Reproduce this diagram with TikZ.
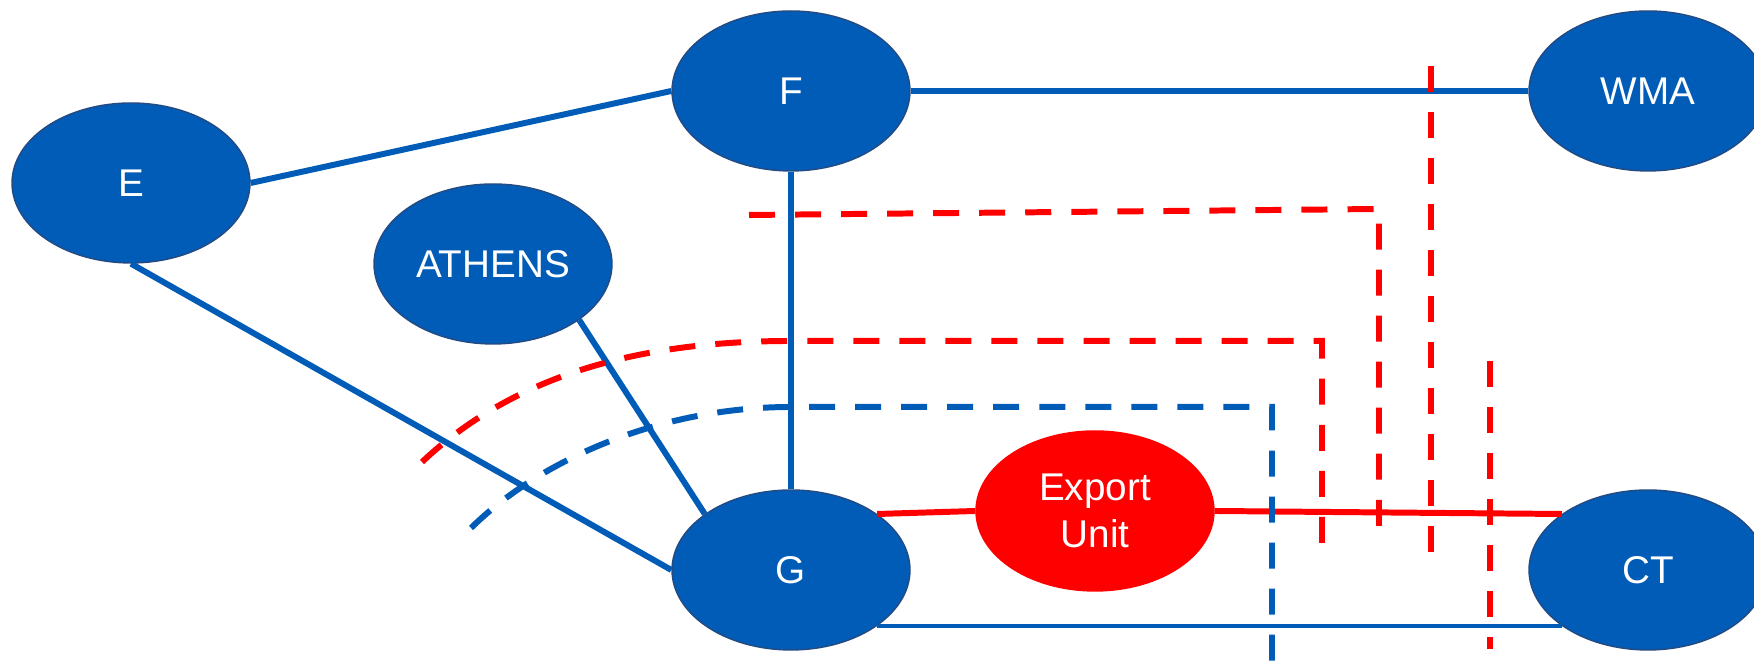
\documentclass[tikz,border=0pt]{standalone}
\usepackage{fontspec}
\setmainfont{Liberation Sans}
\usepackage{tikz}
\usetikzlibrary{shapes.geometric}
\usepackage{xcolor}

\definecolor{siteblue}{RGB}{0,92,183}
\definecolor{rimblue}{RGB}{36,74,130}

\begin{document}
\begin{tikzpicture}[
    site/.style={ellipse, fill=siteblue, draw=rimblue, line width=0.4pt,
      text=white, minimum width=2.38cm, minimum height=1.6cm, inner sep=0pt,
      align=center, font=\fontsize{11}{13.4}\selectfont},
    unit/.style={site, fill=red, draw=red},
    link/.style={draw=siteblue, line width=1.7pt},
    redlink/.style={draw=red, line width=1.7pt},
    cut/.style={line width=1.7pt, dash pattern=on 7.4pt off 5.7pt}]

  \useasboundingbox (0,0) rectangle (17.54,6.65);

  % Define coordinates for nodes
  \node[site] (E) at (1.31, 4.82) {E};
  \node[site] (F) at (7.91, 5.74) {F};
  \node[site] (WMA) at (16.48, 5.74) {WMA};
  \node[site] (ATHENS) at (4.93, 4.01) {ATHENS};
  \node[site] (G) at (7.91, 0.95) {G};
  \node[unit] (EU) at (10.95, 1.54) {Export\\Unit};
  \node[site] (CT) at (16.48, 0.95) {CT};

  % Draw links between nodes
  \draw[link] (E.east) to (F.west);
  \draw[link] (E.south) to (G.west);
  \draw[link] (ATHENS.-33) to (G.147);
  \draw[link] (F.south) to (G.north);
  \draw[link] (F.east) to (WMA.west);
  \draw[redlink] (G.33) to (EU.west);
  \draw[redlink] (EU.east) to (CT.147);
  \draw[link, line width=1.35pt] (G.-33) to (CT.213);

  % Cut lines
  \coordinate (r1a) at (7.49, 4.50);
  \coordinate (r1b) at (13.79, 4.56);
  \coordinate (r1c) at (13.79, 1.20);
  \coordinate (r2a) at (4.22, 2.03);
  \coordinate (r2b) at (7.91, 3.24);
  \coordinate (r2c) at (13.22, 3.24);
  \coordinate (r2d) at (13.22, 1.10);
  \coordinate (b1a) at (4.71, 1.37);
  \coordinate (b1b) at (7.91, 2.58);
  \coordinate (b1c) at (12.72, 2.58);
  \coordinate (b1d) at (12.72, 0);
  \coordinate (r3a) at (14.31, 5.99);
  \coordinate (r3b) at (14.31, 1.12);
  \coordinate (r4a) at (14.90, 3.04);
  \coordinate (r4b) at (14.90, 0.16);

  \draw[cut, red] (r1a) -- (r1b) -- (r1c);
  \draw[cut, red] (r2a) .. controls (5.20, 2.95) and (6.50, 3.24) .. (r2b)
    -- (r2c) -- (r2d);
  \draw[cut, siteblue] (b1a) .. controls (5.40, 2.05) and (6.60, 2.58) .. (b1b)
    -- (b1c) -- (b1d);
  \draw[cut, red] (r3a) -- (r3b);
  \draw[cut, red] (r4a) -- (r4b);

\end{tikzpicture}
\end{document}
